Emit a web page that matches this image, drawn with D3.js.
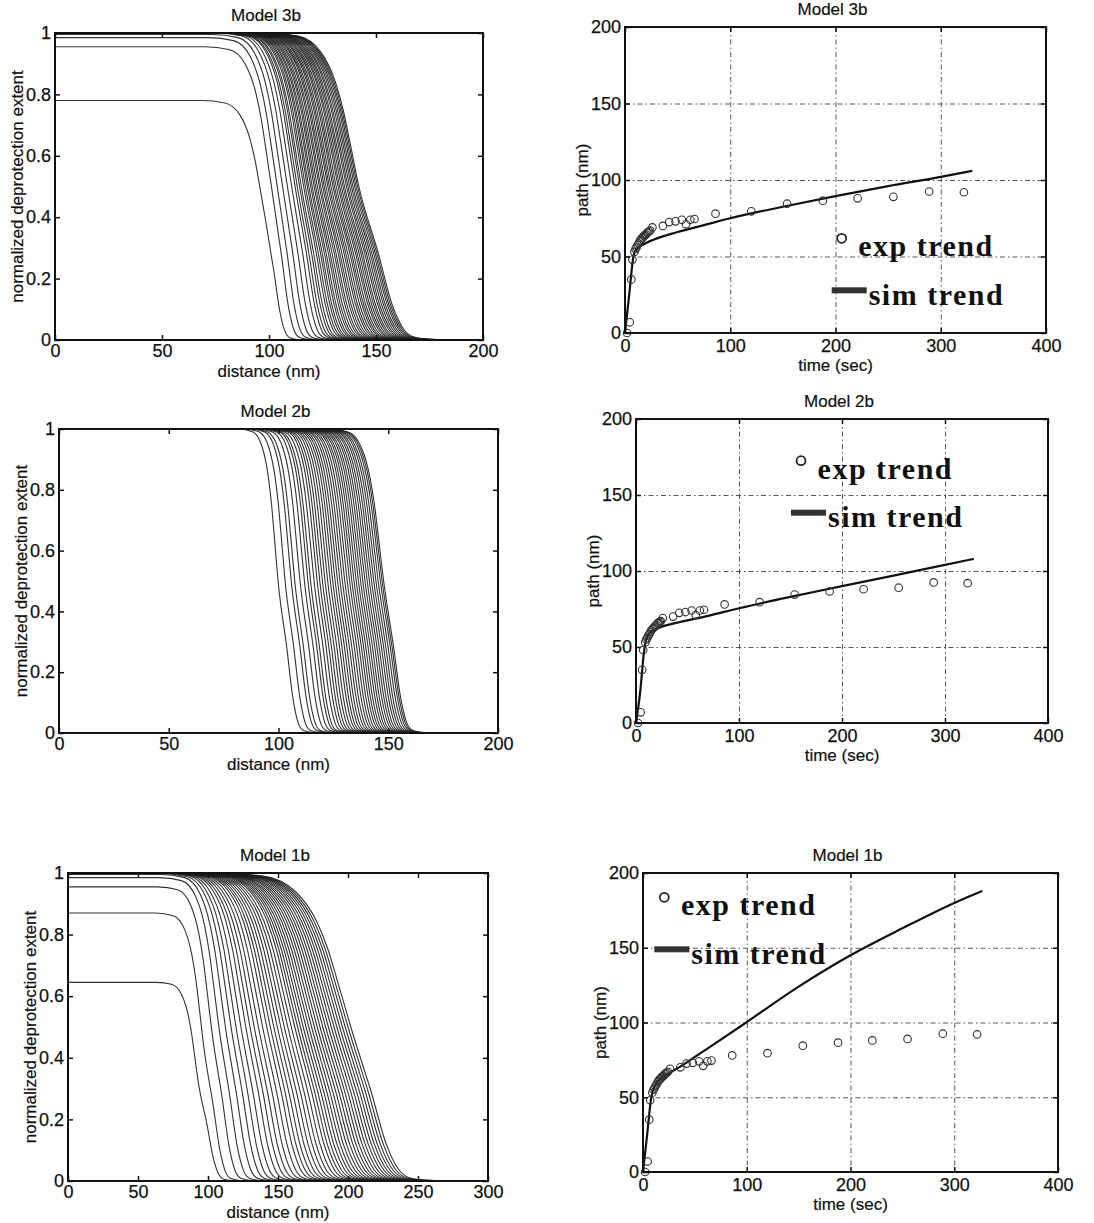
<!DOCTYPE html>
<html>
<head>
<meta charset="utf-8">
<script src="https://cdn.jsdelivr.net/npm/d3@7"></script>
<style>
body{margin:0;background:#fff;}
svg{display:block;}
.tick text{font-family:"Liberation Sans",Arial,sans-serif;font-size:18px;fill:#111;stroke:#111;stroke-width:0.25px;}
.lab{font-family:"Liberation Sans",Arial,sans-serif;font-size:17px;fill:#111;stroke:#111;stroke-width:0.2px;}
.leg{font-family:"Liberation Serif","Times New Roman",serif;font-weight:bold;font-size:30px;letter-spacing:1.5px;fill:#111;}
</style>
</head>
<body>
<svg id="page" width="1094" height="1223"></svg>
<script>
// front shape (offset from half height, fraction of plateau)
const tplOff = [-30, -19, -12, -7.3, -4.9, -2.9, 0, 3.9, 6.7, 9.1, 11.4, 15, 19];
const tplLev = [1, 0.99, 0.94, 0.84, 0.75, 0.65, 0.5, 0.285, 0.118, 0.035, 0.009, 0.002, 0];

// Model 3b profiles: half-height position (nm), plateau, upper / lower spread
const mid3b = [98.4, 101.6, 104.0, 106.4, 108.6, 110.6, 112.2, 113.2, 114.3, 115.1,
  116.2, 117.0, 117.9, 118.6, 119.5, 120.2, 121.1, 121.8, 122.6, 123.5,
  124.2, 125.1, 125.8, 126.6, 127.5, 128.2, 129.0, 129.9, 130.6, 131.4,
  132.3, 133.0, 133.8, 134.6, 135.3, 136.2, 136.9, 137.7, 138.5, 139.2,
  140.0, 140.7, 141.4, 142.0];
const top3b = [0.78, 0.955, 0.985, 0.995, 1, 1, 1, 1, 1, 1,
  1, 1, 1, 1, 1, 1, 1, 1, 1, 1,
  1, 1, 1, 1, 1, 1, 1, 1, 1, 1,
  1, 1, 1, 1, 1, 1, 1, 1, 1, 1,
  1, 1, 1, 1];
const wUp3b = [1.0, 1.05, 1.08, 1.1, 1.12, 1.14, 1.15, 1.17, 1.18, 1.19,
  1.2, 1.21, 1.22, 1.23, 1.24, 1.25, 1.26, 1.27, 1.28, 1.29,
  1.3, 1.31, 1.32, 1.33, 1.34, 1.35, 1.36, 1.37, 1.38, 1.39,
  1.4, 1.41, 1.42, 1.43, 1.44, 1.45, 1.46, 1.46, 1.47, 1.47,
  1.48, 1.49, 1.5, 1.5];
const wLo3b = [1.0, 1.1, 1.15, 1.2, 1.25, 1.3, 1.34, 1.38, 1.42, 1.46,
  1.5, 1.53, 1.56, 1.59, 1.62, 1.65, 1.68, 1.71, 1.74, 1.77,
  1.8, 1.83, 1.86, 1.89, 1.92, 1.95, 1.98, 2.0, 2.02, 2.04,
  2.06, 2.08, 2.1, 2.12, 2.14, 2.16, 2.18, 2.2, 2.22, 2.24,
  2.26, 2.27, 2.28, 2.3];

// Model 2b profiles
const mid2b = [99.8, 103.0, 105.8, 107.4, 109.8, 111.8, 113.4, 114.6, 116.2, 117.6,
  118.8, 120.0, 121.2, 122.4, 123.6, 124.7, 125.8, 126.9, 128.0, 129.1,
  130.2, 131.3, 132.4, 133.4, 134.4, 135.4, 136.4, 137.4, 138.4, 139.4,
  140.4, 141.4, 142.4, 143.4, 144.4, 145.4, 146.4, 147.2, 147.9];
const top2b = [1, 1, 1, 1, 1, 1, 1, 1, 1, 1,
  1, 1, 1, 1, 1, 1, 1, 1, 1, 1,
  1, 1, 1, 1, 1, 1, 1, 1, 1, 1,
  1, 1, 1, 1, 1, 1, 1, 1, 1];
const wUp2b = [0.6, 0.62, 0.64, 0.65, 0.66, 0.67, 0.68, 0.69, 0.7, 0.7,
  0.71, 0.72, 0.72, 0.73, 0.74, 0.74, 0.75, 0.76, 0.76, 0.77,
  0.77, 0.78, 0.78, 0.79, 0.79, 0.8, 0.8, 0.81, 0.81, 0.82,
  0.82, 0.83, 0.83, 0.84, 0.84, 0.85, 0.85, 0.85, 0.85];
const wLo2b = [1.0, 1.0, 1.01, 1.01, 1.02, 1.02, 1.03, 1.03, 1.04, 1.04,
  1.05, 1.05, 1.06, 1.06, 1.07, 1.07, 1.08, 1.08, 1.09, 1.09,
  1.1, 1.1, 1.1, 1.11, 1.11, 1.11, 1.12, 1.12, 1.12, 1.13,
  1.13, 1.13, 1.14, 1.14, 1.14, 1.15, 1.15, 1.15, 1.15];

// Model 1b profiles
const mid1b = [93, 97, 103, 108, 112.5, 116.5, 120, 123.5, 127, 130,
  133, 136, 139, 142, 144.5, 147, 149.5, 152, 154.5, 157,
  159.5, 162, 164, 166, 168, 170, 172, 174, 176, 178,
  180, 182, 184, 186, 188, 190, 192, 194, 196, 198,
  200, 202];
const top1b = [0.645, 0.87, 0.955, 0.985, 0.995, 0.998, 1, 1, 1, 1,
  1, 1, 1, 1, 1, 1, 1, 1, 1, 1,
  1, 1, 1, 1, 1, 1, 1, 1, 1, 1,
  1, 1, 1, 1, 1, 1, 1, 1, 1, 1,
  1, 1];
const wUp1b = [1.0, 1.15, 1.3, 1.42, 1.54, 1.65, 1.75, 1.84, 1.92, 2.0,
  2.07, 2.14, 2.2, 2.26, 2.32, 2.38, 2.43, 2.48, 2.53, 2.58,
  2.63, 2.67, 2.71, 2.75, 2.79, 2.83, 2.87, 2.9, 2.93, 2.96,
  2.99, 3.02, 3.05, 3.08, 3.1, 3.13, 3.16, 3.19, 3.22, 3.25,
  3.28, 3.3];
const wLo1b = [1.6, 1.7, 1.8, 1.9, 2.0, 2.08, 2.16, 2.24, 2.32, 2.4,
  2.47, 2.54, 2.61, 2.68, 2.74, 2.8, 2.86, 2.92, 2.98, 3.03,
  3.08, 3.13, 3.18, 3.23, 3.28, 3.32, 3.36, 3.4, 3.44, 3.48,
  3.52, 3.55, 3.58, 3.61, 3.64, 3.67, 3.7, 3.72, 3.74, 3.76,
  3.78, 3.8];

// experimental path (same in all three models)
const expTime = [2, 4.5, 6, 7, 9, 10, 11, 12, 13, 14,
  15, 16, 17, 18, 19, 20, 21, 22, 23, 24,
  26, 36, 42, 48, 54, 58, 62, 66, 86, 120,
  154, 188, 221, 255, 289, 322];
const expPath = [0, 7, 35, 48, 53, 55, 56, 57.5, 58.5, 60,
  61, 62, 62.5, 63.5, 64, 64.5, 65.5, 66, 66.5, 67,
  69, 70, 72.5, 73, 74, 71, 74, 74.5, 78, 79.5,
  84.5, 86.5, 88, 89, 92.5, 92];

// simulated path
const sim3bTime = [0, 4, 8, 11, 15, 27, 50, 75, 100, 150, 200, 250, 300, 330];
const sim3bPath = [0, 25, 50, 55, 57, 61, 66, 70.5, 75, 82.5, 89.5, 96, 102, 106];
const sim2bTime = [0, 4, 8, 11, 15, 22, 40, 70, 100, 150, 200, 250, 300, 328];
const sim2bPath = [0, 20, 48, 57, 60, 62.5, 66, 70.5, 75.5, 83, 90, 97, 104, 108];
const sim1bTime = [0, 4, 8, 11, 15, 25, 36, 50, 75, 100, 150, 200, 250, 300, 327];
const sim1bPath = [0, 25, 50, 57, 61, 66, 70.5, 77, 88.5, 100.3, 124, 145, 163, 180, 188];

const profTicksY = [0, 0.2, 0.4, 0.6, 0.8, 1];
const pathTicksX = [0, 100, 200, 300, 400];
const pathTicksY = [0, 50, 100, 150, 200];

const svg = d3.select("#page");

function frameAxes(g, x, y, w, h, xt, yt, pad){
	// ticks inward on all four sides, like matlab
	const bottom = g.append("g").attr("transform", `translate(0,${h})`)
		.call(d3.axisBottom(x).tickValues(xt).tickSizeInner(-5).tickSizeOuter(0).tickPadding(pad).tickFormat(d => String(d)));
	const left = g.append("g")
		.call(d3.axisLeft(y).tickValues(yt).tickSizeInner(-5).tickSizeOuter(0).tickPadding(4).tickFormat(d => String(d)));
	const top = g.append("g")
		.call(d3.axisTop(x).tickValues(xt).tickSizeInner(-5).tickSizeOuter(0).tickFormat(""));
	const right = g.append("g").attr("transform", `translate(${w},0)`)
		.call(d3.axisRight(y).tickValues(yt).tickSizeInner(-5).tickSizeOuter(0).tickFormat(""));
	[bottom, left, top, right].forEach(a => {
		a.select(".domain").remove();
		a.selectAll("line").attr("stroke", "#111").attr("stroke-width", 1.5);
	});
	g.append("rect")
		.attr("width", w).attr("height", h)
		.attr("fill", "none").attr("stroke", "#111").attr("stroke-width", 2);
}

function labels(g, p, w, h){
	g.append("text").attr("class", "lab")
		.attr("x", w/2 - 3).attr("y", -12)
		.attr("text-anchor", "middle").text(p.title);
	g.append("text").attr("class", "lab")
		.attr("x", w/2).attr("y", h + p.xlabDy)
		.attr("text-anchor", "middle").text(p.xlab);
	g.append("text").attr("class", "lab")
		.attr("transform", `translate(${p.ylabDx},${h/2}) rotate(-90)`)
		.attr("text-anchor", "middle").text(p.ylab);
}

function drawProfile(p){
	const w = p.right - p.left, h = p.bottom - p.top;
	const g = svg.append("g").attr("transform", `translate(${p.left},${p.top})`);
	const x = d3.scaleLinear().domain([0, p.xmax]).range([0, w]);
	const y = d3.scaleLinear().domain([0, 1]).range([h, 0]);
	const line = d3.line().x(d => x(d[0])).y(d => y(d[1])).curve(d3.curveMonotoneX);
	g.append("clipPath").attr("id", p.id).append("rect").attr("width", w).attr("height", h);
	const curves = g.append("g").attr("clip-path", `url(#${p.id})`);
	p.mid.forEach((m, i) => {
		let pts = [[0, p.plateau[i]]];
		tplOff.forEach((o, k) => {
			const xx = m + o * (o < 0 ? p.wUp[i] : p.wLo[i]);
			if(xx > 0 && xx < p.xmax) pts.push([xx, p.plateau[i] * tplLev[k]]);
		});
		pts.push([p.xmax, 0]);
		curves.append("path")
			.attr("d", line(pts))
			.attr("fill", "none")
			.attr("stroke", "#1e1e1e")
			.attr("stroke-width", 1.1)
			.attr("stroke-opacity", 0.9);
	});
	frameAxes(g, x, y, w, h, p.xticks, profTicksY, 4);
	labels(g, p, w, h);
}

function drawPath(p){
	const w = p.right - p.left, h = p.bottom - p.top;
	const g = svg.append("g").attr("transform", `translate(${p.left},${p.top})`);
	const x = d3.scaleLinear().domain([0, 400]).range([0, w]);
	const y = d3.scaleLinear().domain([0, 200]).range([h, 0]);
	// grid
	const gx = g.append("g").call(d3.axisBottom(x).tickValues([100, 200, 300]).tickSize(h).tickFormat(""));
	const gy = g.append("g").call(d3.axisRight(y).tickValues([50, 100, 150]).tickSize(w).tickFormat(""));
	[gx, gy].forEach(a => {
		a.select(".domain").remove();
		a.selectAll("line").attr("stroke", "#555").attr("stroke-width", 1).attr("stroke-dasharray", "5,3,1.5,3");
	});
	const sim = p.simT.map((t, i) => [t, p.simP[i]]);
	g.append("path")
		.attr("d", d3.line().x(d => x(d[0])).y(d => y(d[1])).curve(d3.curveMonotoneX)(sim))
		.attr("fill", "none").attr("stroke", "#111").attr("stroke-width", 2.2);
	g.append("g").selectAll("circle")
		.data(expTime.map((t, i) => [t, expPath[i]]))
		.enter().append("circle")
		.attr("cx", d => x(d[0])).attr("cy", d => y(d[1])).attr("r", 3.8)
		.attr("fill", "none").attr("stroke", "#333").attr("stroke-width", 1.1);
	// legend
	const lg = g.append("g").attr("transform", `translate(${p.leg[0]},${p.leg[1]})`);
	lg.append("circle").attr("r", 4.5).attr("fill", "none").attr("stroke", "#222").attr("stroke-width", 1.8);
	lg.append("text").attr("class", "leg").attr("x", 16.6).attr("y", 18).text("exp trend");
	lg.append("rect").attr("x", -10).attr("y", 49).attr("width", 35).attr("height", 6).attr("fill", "#333");
	lg.append("text").attr("class", "leg").attr("x", 27).attr("y", 66.5).text("sim trend");
	frameAxes(g, x, y, w, h, pathTicksX, pathTicksY, 6);
	labels(g, p, w, h);
}

drawProfile({id: "c3b", left: 55, right: 483, top: 33, bottom: 340, xmax: 200, xticks: [0, 50, 100, 150, 200],
	mid: mid3b, plateau: top3b, wUp: wUp3b, wLo: wLo3b,
	title: "Model 3b", xlab: "distance (nm)", ylab: "normalized deprotection extent", xlabDy: 36.5, ylabDx: -32});
drawProfile({id: "c2b", left: 59, right: 498, top: 429, bottom: 733, xmax: 200, xticks: [0, 50, 100, 150, 200],
	mid: mid2b, plateau: top2b, wUp: wUp2b, wLo: wLo2b,
	title: "Model 2b", xlab: "distance (nm)", ylab: "normalized deprotection extent", xlabDy: 36.5, ylabDx: -32});
drawProfile({id: "c1b", left: 68, right: 488, top: 873, bottom: 1181, xmax: 300, xticks: [0, 50, 100, 150, 200, 250, 300],
	mid: mid1b, plateau: top1b, wUp: wUp1b, wLo: wLo1b,
	title: "Model 1b", xlab: "distance (nm)", ylab: "normalized deprotection extent", xlabDy: 36.5, ylabDx: -32});

drawPath({left: 625, right: 1046, top: 27, bottom: 333, simT: sim3bTime, simP: sim3bPath, leg: [216.7, 211.3],
	title: "Model 3b", xlab: "time (sec)", ylab: "path (nm)", xlabDy: 38, ylabDx: -37.5});
drawPath({left: 636, right: 1048, top: 419, bottom: 723, simT: sim2bTime, simP: sim2bPath, leg: [165, 41.7],
	title: "Model 2b", xlab: "time (sec)", ylab: "path (nm)", xlabDy: 38, ylabDx: -37.5});
drawPath({left: 643, right: 1058, top: 873, bottom: 1172, simT: sim1bTime, simP: sim1bPath, leg: [21.3, 24.3],
	title: "Model 1b", xlab: "time (sec)", ylab: "path (nm)", xlabDy: 38, ylabDx: -37.5});
</script>
</body>
</html>
